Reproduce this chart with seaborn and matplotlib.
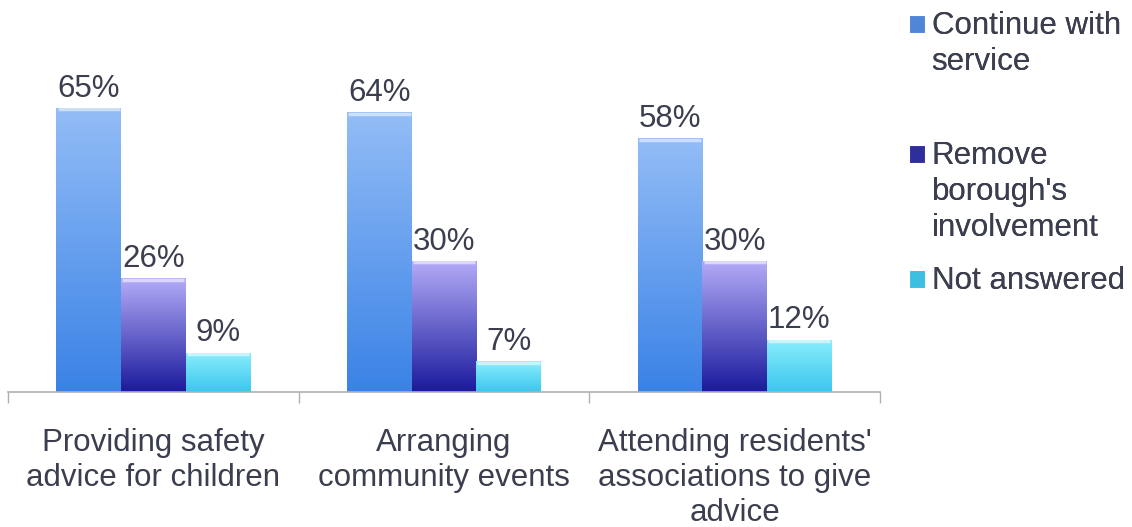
import numpy as np
import pandas as pd
import matplotlib
matplotlib.use("Agg")
import matplotlib.pyplot as plt
from matplotlib.colors import LinearSegmentedColormap
from matplotlib.patches import Patch, Rectangle
from matplotlib.legend_handler import HandlerPatch
import seaborn as sns

categories = ["Providing safety\nadvice for children",
              "Arranging\ncommunity events",
              "Attending residents'\nassociations to give\nadvice"]
series = ["Continue with\nservice", "Remove\nborough's\ninvolvement", "Not answered"]
continue_vals = [65, 64, 58]
remove_vals = [26, 30, 30]
not_answered_vals = [9, 7, 12]

# (top colour, bottom colour) for each series' gradient fill
gradients = [("#93bdf6", "#3a82e6"), ("#b4acf8", "#1a1a9c"), ("#8aeefc", "#3cc6ee")]
legend_colors = ["#4f86d6", "#2e2e9e", "#3cbfe0"]
text_color = "#3a3e4e"

df = pd.DataFrame({
    "category": categories * 3,
    "series": [series[0]] * 3 + [series[1]] * 3 + [series[2]] * 3,
    "value": continue_vals + remove_vals + not_answered_vals,
})

sns.set_theme(style="white")
plt.rcParams["font.family"] = ["Liberation Sans", "DejaVu Sans"]

fig = plt.figure(figsize=(11.32, 5.27), dpi=100)
ax = fig.add_axes([8 / 1132, 135 / 527, 872 / 1132, 306 / 527])

sns.barplot(data=df, x="category", y="value", hue="series", order=categories,
            hue_order=series, palette=legend_colors, width=0.667, ax=ax,
            legend=False, saturation=1, errorbar=None)

# Replace flat fills with vertical gradients clipped to each bar
grad = np.linspace(0, 1, 256).reshape(-1, 1)
for container, (top, bottom) in zip(ax.containers, gradients):
    cmap = LinearSegmentedColormap.from_list("g", [top, bottom])
    for bar in container.patches:
        x0, y0 = bar.get_x(), bar.get_y()
        w, h = bar.get_width(), bar.get_height()
        bar.set_facecolor("none")
        bar.set_edgecolor("none")
        im = ax.imshow(grad, cmap=cmap, aspect="auto",
                       extent=(x0, x0 + w, y0, y0 + h), origin="upper", zorder=2)
        im.set_clip_path(bar)
        # light highlight along the bar top
        ax.plot([x0 + 0.004, x0 + w - 0.004], [y0 + h - 0.35, y0 + h - 0.35],
                color="white", alpha=0.55, lw=2.5, zorder=3, solid_capstyle="butt")
    ax.bar_label(container, labels=[f"{v:.0f}%" for v in container.datavalues],
                 padding=3, fontsize=22.5, color=text_color)

ax.set_xlim(-0.5, 2.5)
ax.set_ylim(0, 70)
ax.set_xlabel("")
ax.set_ylabel("")
ax.set_yticks([])
ax.set_xticks(range(3))
ax.set_xticklabels(categories, fontsize=22.5, color=text_color, linespacing=1.22)
ax.tick_params(axis="x", which="major", length=0, pad=26)
ax.set_xticks([-0.5, 0.5, 1.5, 2.5], minor=True)
ax.tick_params(axis="x", which="minor", length=8, width=1, color="#b0b0b0", direction="out")
ax.xaxis.set_ticks_position("bottom")
for s in ["top", "right", "left"]:
    ax.spines[s].set_visible(False)
ax.spines["bottom"].set_color("#b0b0b0")
ax.spines["bottom"].set_linewidth(1.2)
ax.set_xlim(-0.5, 2.5)


def square_below_top(legend, orig_handle, xdescent, ydescent, width, height, fontsize):
    # drop the colour square slightly so it sits level with the first text line
    return Rectangle((-xdescent, -ydescent - 0.12 * fontsize), width, height)


# Legend entries placed individually down the right margin
legend_y = [11 / 527, 141 / 527, 266 / 527]
for name, col, y in zip(series, legend_colors, legend_y):
    leg = fig.legend(handles=[Patch(facecolor=col, edgecolor="#ffffff", linewidth=0.8)],
                     labels=[name], loc="upper left", bbox_to_anchor=(909 / 1132, 1 - y),
                     frameon=False, fontsize=22.5, handlelength=0.5, handleheight=0.5,
                     handletextpad=0.22, borderaxespad=0, borderpad=0,
                     handler_map={Patch: HandlerPatch(patch_func=square_below_top)})
    # keep the colour square beside the first line of a wrapped label
    for column in leg._legend_handle_box.get_children():
        for item in column.get_children():
            item.align = "top"
    for t in leg.get_texts():
        t.set_color(text_color)
        t.set_linespacing(1.26)
    fig.add_artist(leg)

fig.savefig("out.png", dpi=100, facecolor="white")
